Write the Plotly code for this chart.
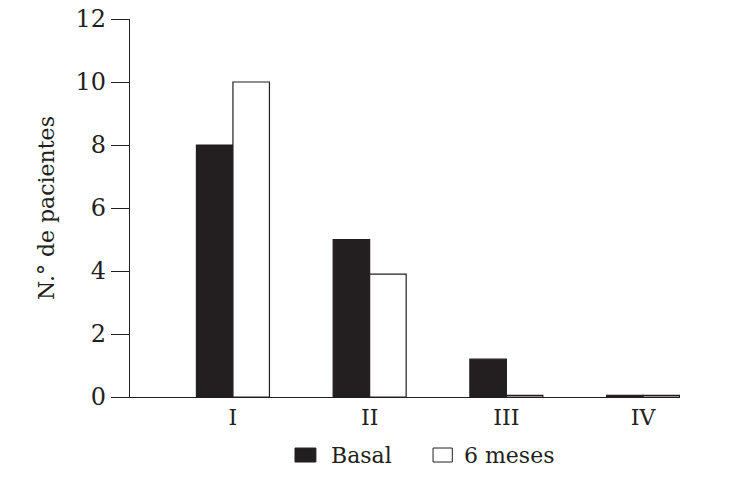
import plotly.graph_objects as go

categories = ["I", "II", "III", "IV"]
basal = [8, 5, 1.2, 0.05]
seis_meses = [10, 3.9, 0.05, 0.05]
y_ticks = [0, 2, 4, 6, 8, 10, 12]

INK = "#231f20"
FONT = dict(family="DejaVu Serif", size=22, color=INK)
TICK_FONT = dict(family="DejaVu Serif", size=24, color=INK)

fig = go.Figure()
fig.add_trace(go.Bar(
    x=categories, y=basal, name="Basal",
    marker=dict(color=INK, line=dict(color=INK, width=1.2)),
))
fig.add_trace(go.Bar(
    x=categories, y=seis_meses, name="6 meses",
    marker=dict(color="white", line=dict(color=INK, width=1.2)),
))

# hand-drawn legend (square swatches as in the original)
legend_items = [("Basal", INK, 0.300, 0.038, 0.362),
                ("6 meses", "white", 0.551, 0.035, 0.604)]
for label, fill, x0, w, tx in legend_items:
    fig.add_shape(type="rect", xref="paper", yref="paper",
                  x0=x0, x1=x0 + w, y0=-0.172, y1=-0.135,
                  fillcolor=fill, line=dict(color=INK, width=1))
    fig.add_annotation(text=label, xref="paper", yref="paper",
                       x=tx, y=-0.155, xanchor="left", yanchor="middle",
                       showarrow=False, font=FONT)

fig.update_layout(
    width=730, height=501,
    margin=dict(l=130, r=50, t=19, b=104),
    paper_bgcolor="white", plot_bgcolor="white",
    barmode="group", bargap=0.466, bargroupgap=0,
    showlegend=False,
    font=FONT,
    xaxis=dict(
        type="category", range=[-0.753, 3.27], automargin=False,
        showline=True, linecolor=INK, linewidth=1.2,
        ticks="", showgrid=False, zeroline=False,
        tickfont=FONT,
    ),
    yaxis=dict(
        range=[0, 12], tickvals=y_ticks, automargin=False,
        showline=True, linecolor=INK, linewidth=1.2,
        ticks="outside", ticklen=18, tickcolor=INK, tickwidth=1.2,
        showgrid=False, zeroline=False,
        tickfont=TICK_FONT,
        title=dict(text="N.° de pacientes", font=FONT, standoff=14),
    ),
)

# drop the default 8px body margin so the figure sits at the page origin
fig.write_html("out.html", config={"displayModeBar": False},
               post_script="document.body.style.margin = '0';")
